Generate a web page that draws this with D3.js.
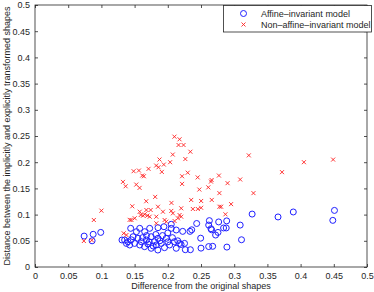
<!DOCTYPE html>
<html><head><meta charset="utf-8">
<script src="https://cdn.jsdelivr.net/npm/d3@7"></script>
<style>
body{margin:0;background:#fff;}
text{font-family:"Liberation Sans",Arial,sans-serif;}
</style></head>
<body><svg id="c" width="374" height="292"></svg>
<script>
const xTicks = [0,0.05,0.1,0.15,0.2,0.25,0.3,0.35,0.4,0.45,0.5];
const yTicks = [0,0.05,0.1,0.15,0.2,0.25,0.3,0.35,0.4,0.45,0.5];
const seriesNames = ["Affine\u2013invariant model","Non\u2013affine\u2013invariant model"];
const xLabel = "Difference from the original shapes";
const yLabel = "Distance between the implicitly and explicitly transformed shapes";

const affine = [
[0.074,0.059],[0.0876,0.0624],[0.086,0.05],[0.099,0.066],
[0.131,0.0515],[0.135,0.0515],[0.1377,0.045],
[0.14,0.0483],[0.1426,0.042],[0.1441,0.0738],[0.1477,0.0578],[0.150,0.045],[0.1527,0.0674],
[0.155,0.0548],[0.1577,0.0738],[0.1577,0.042],[0.160,0.0483],[0.1652,0.0674],[0.165,0.0388],
[0.1677,0.0515],[0.17,0.044],[0.1727,0.0738],[0.175,0.0578],[0.175,0.0357],[0.180,0.0483],
[0.1827,0.042],[0.1852,0.075],[0.1852,0.0548],[0.185,0.0324],[0.190,0.045],[0.1942,0.0769],
[0.195,0.0369],[0.1977,0.0548],[0.2027,0.042],[0.2052,0.0815],[0.2052,0.0738],[0.210,0.0483],
[0.2127,0.0706],[0.2127,0.0357],[0.2177,0.045],[0.22,0.043],[0.2224,0.068],[0.2252,0.045],
[0.2264,0.033],[0.2334,0.068],[0.234,0.033],[0.236,0.071],[0.2435,0.083],[0.2495,0.055],
[0.25,0.036],[0.2616,0.080],[0.2626,0.0885],[0.265,0.073],[0.266,0.071],[0.2616,0.039],
[0.2676,0.0395],[0.272,0.061],[0.2756,0.066],[0.2766,0.086],[0.284,0.0745],[0.288,0.0745],
[0.2887,0.088],[0.289,0.038],[0.309,0.08],[0.311,0.052],[0.327,0.101],[0.366,0.0955],
[0.389,0.105],[0.4485,0.089],[0.451,0.108],
[0.145,0.052],[0.162,0.056],[0.172,0.048],[0.178,0.04],[0.188,0.05],[0.192,0.06],
[0.2,0.048],[0.207,0.056],[0.215,0.05],[0.2,0.065],[0.182,0.062],[0.168,0.06]
];

const nonAffine = [
[0.0736,0.0496],[0.0856,0.051],[0.0886,0.0897],[0.100,0.1075],[0.1336,0.0643],[0.1377,0.061],[0.1426,0.09],
[0.1325,0.1624],[0.1365,0.1541],[0.1485,0.1828],[0.1565,0.1841],[0.1525,0.1573],[0.1575,0.151],
[0.1615,0.1745],[0.164,0.1732],[0.171,0.1873],[0.1825,0.1936],[0.186,0.1904],[0.191,0.1815],
[0.1875,0.2051],[0.194,0.1955],[0.2035,0.2],[0.2075,0.2146],[0.181,0.1338],[0.1675,0.1255],
[0.1465,0.1159],[0.2055,0.1223],[0.2215,0.1586],[0.2215,0.1732],
[0.210,0.2487],[0.2177,0.2437],[0.2162,0.2328],[0.2237,0.2328],
[0.1577,0.1055],[0.1677,0.1088],[0.1742,0.1088],[0.1852,0.115],[0.1927,0.1055],[0.2052,0.107],
[0.2077,0.1024],[0.2177,0.0992],[0.1452,0.0897],[0.1502,0.093],[0.1592,0.0992],[0.1627,0.098],
[0.1652,0.1006],[0.1692,0.098],[0.1727,0.096],[0.1827,0.0834],[0.1827,0.096],[0.1952,0.0897],
[0.1977,0.0865],[0.2102,0.0878],[0.2152,0.093],
[0.2352,0.128],[0.2502,0.126],[0.2662,0.128],[0.2953,0.120],[0.2803,0.115],[0.2778,0.115],
[0.2377,0.1107],[0.2452,0.1107],[0.2502,0.113],[0.2202,0.112],[0.2202,0.096],[0.2868,0.1006],
[0.449,0.205],[0.405,0.2],[0.372,0.181],[0.322,0.213],[0.309,0.167],[0.329,0.141],[0.290,0.16],
[0.277,0.1745],[0.2777,0.141],[0.266,0.166],[0.265,0.163],[0.261,0.152],[0.2475,0.1478],
[0.245,0.171],[0.23,0.18],[0.234,0.22],[0.2264,0.206]
];

const L=35, R=367, T=5, B=267;
const svg = d3.select("#c");
const x = d3.scaleLinear().domain([0,0.5]).range([L,R]);
const y = d3.scaleLinear().domain([0,0.5]).range([B,T]);
const fmt = d => String(+d.toFixed(2));
const axCol = "#262626";

function styleAxis(g){
  g.select(".domain").remove();
  g.selectAll("line").attr("stroke",axCol).attr("stroke-width",0.8);
  g.selectAll("text").attr("fill",axCol).attr("font-size","9px");
}
svg.append("g").attr("transform",`translate(0,${B})`)
  .call(d3.axisBottom(x).tickValues(xTicks).tickFormat(fmt).tickSizeInner(-3).tickSizeOuter(0).tickPadding(6))
  .call(styleAxis);
svg.append("g").attr("transform",`translate(0,${T})`)
  .call(d3.axisTop(x).tickValues(xTicks).tickFormat("").tickSizeInner(-3).tickSizeOuter(0))
  .call(styleAxis);
svg.append("g").attr("transform",`translate(${L},0)`)
  .call(d3.axisLeft(y).tickValues(yTicks).tickFormat(fmt).tickSizeInner(-3).tickSizeOuter(0).tickPadding(5))
  .call(styleAxis);
svg.append("g").attr("transform",`translate(${R},0)`)
  .call(d3.axisRight(y).tickValues(yTicks).tickFormat("").tickSizeInner(-3).tickSizeOuter(0))
  .call(styleAxis);

svg.append("rect").attr("x",L).attr("y",T).attr("width",R-L).attr("height",B-T)
  .attr("fill","none").attr("stroke",axCol).attr("stroke-width",0.8);

// circles
svg.append("g").selectAll("circle").data(affine).join("circle")
  .attr("cx",d=>x(d[0])).attr("cy",d=>y(d[1])).attr("r",3)
  .attr("fill","none").attr("stroke","#1f1fff").attr("stroke-width",1);
// crosses
const cs=2;
svg.append("g").selectAll("path").data(nonAffine).join("path")
  .attr("d",d=>{const px=x(d[0]),py=y(d[1]);return `M${px-cs},${py-cs}L${px+cs},${py+cs}M${px-cs},${py+cs}L${px+cs},${py-cs}`;})
  .attr("fill","none").attr("stroke","#ff2020").attr("stroke-width",0.9);

// labels
svg.append("text").attr("x",(L+R)/2).attr("y",289).attr("text-anchor","middle")
  .attr("font-size","9px").attr("fill",axCol).text(xLabel);
svg.append("text").attr("transform",`translate(10,${(T+B)/2}) rotate(-90)`).attr("text-anchor","middle")
  .attr("font-size","9px").attr("fill",axCol).text(yLabel);

// legend
const lg = svg.append("g");
lg.append("rect").attr("x",223.5).attr("y",5.5).attr("width",148).attr("height",26.5)
  .attr("fill","#fff").attr("stroke",axCol).attr("stroke-width",0.8);
lg.append("circle").attr("cx",243.5).attr("cy",13.5).attr("r",3)
  .attr("fill","none").attr("stroke","#1f1fff").attr("stroke-width",1);
lg.append("path").attr("d",`M${243.5-cs},${24.5-cs}L${243.5+cs},${24.5+cs}M${243.5-cs},${24.5+cs}L${243.5+cs},${24.5-cs}`)
  .attr("stroke","#ff2020").attr("stroke-width",0.9);
lg.selectAll("text.l").data(seriesNames).join("text").attr("class","l")
  .attr("x",261).attr("y",(d,i)=>16.5+i*11).attr("font-size","9px").attr("fill",axCol).text(d=>d);
</script></body></html>
